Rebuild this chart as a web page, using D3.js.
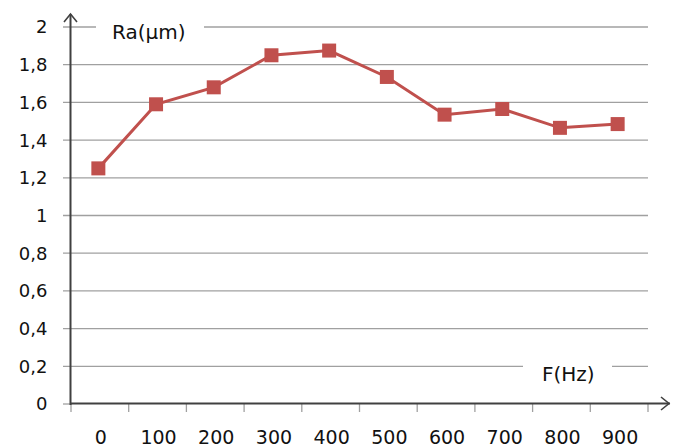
<!DOCTYPE html>
<html><head><meta charset="utf-8">
<script src="https://cdn.jsdelivr.net/npm/d3@7"></script>
<style>body{margin:0;background:#fff}svg{display:block}text{font-family:"DejaVu Sans",sans-serif}</style>
</head><body><svg width="678" height="448"></svg>
<script>
const categories = ["0","100","200","300","400","500","600","700","800","900"];
const raValues = [1.25,1.59,1.68,1.85,1.875,1.735,1.535,1.565,1.465,1.485];
const yTicks = [0,0.2,0.4,0.6,0.8,1,1.2,1.4,1.6,1.8,2];
const yTickLabels = ["0","0,2","0,4","0,6","0,8","1","1,2","1,4","1,6","1,8","2"];
const yTitle = "Ra(µm)";
const xTitle = "F(Hz)";

const svg = d3.select("svg");
const x = d3.scaleBand().domain(categories).range([71,648]);
const y = d3.scaleLinear().domain([0,2]).range([404,27]);
const axisCol = "#404040";

// gridlines
svg.append("g").selectAll("line").data(yTicks.slice(1)).join("line")
  .attr("x1",63).attr("x2",648).attr("y1",d=>y(d)).attr("y2",d=>y(d))
  .attr("stroke","#a0a0a0").attr("stroke-width",1.3);
svg.append("line").attr("x1",63).attr("x2",71).attr("y1",y(0)).attr("y2",y(0)).attr("stroke","#a0a0a0").attr("stroke-width",1.3);

// y labels
svg.append("g").selectAll("text").data(yTicks).join("text")
  .attr("x",47.5).attr("y",d=>y(d)).attr("dy","0.36em").attr("text-anchor","end")
  .attr("font-size",18).attr("fill","#111").text((d,i)=>yTickLabels[i]);

// x ticks
const tickPos = categories.map(c=>x(c)).concat([x.range()[1]]);
svg.append("g").selectAll("line").data(tickPos).join("line")
  .attr("x1",d=>d).attr("x2",d=>d).attr("y1",404).attr("y2",412)
  .attr("stroke","#a0a0a0").attr("stroke-width",1.3);
svg.append("g").selectAll("text").data(categories).join("text")
  .attr("x",d=>x(d)+x.bandwidth()/2+1).attr("y",444)
  .attr("text-anchor","middle").attr("font-size",19).attr("fill","#111").text(d=>d);

// axes with arrows
svg.append("line").attr("x1",70.5).attr("x2",70.5).attr("y1",405).attr("y2",14).attr("stroke",axisCol).attr("stroke-width",2);
svg.append("path").attr("d","M64,22 L70.5,14 L77,22").attr("fill","none").attr("stroke",axisCol).attr("stroke-width",1.6);
svg.append("line").attr("x1",70).attr("x2",670).attr("y1",403.5).attr("y2",403.5).attr("stroke",axisCol).attr("stroke-width",2.2);
svg.append("path").attr("d","M661,397 L669,403.5 L661,410").attr("fill","none").attr("stroke",axisCol).attr("stroke-width",1.6);

// axis titles with white backgrounds
svg.append("rect").attr("x",96).attr("y",15).attr("width",108).attr("height",26).attr("fill","#fff");
svg.append("text").attr("x",112).attr("y",32).attr("dy","0.36em").attr("font-size",20).attr("fill","#111").text(yTitle);
svg.append("rect").attr("x",523).attr("y",358).attr("width",89).attr("height",24).attr("fill","#fff");
svg.append("text").attr("x",542).attr("y",374).attr("dy","0.36em").attr("font-size",20).attr("fill","#111").text(xTitle);

// line + markers
const data = categories.map((c,i)=>({c,v:raValues[i]}));
const cx = d=>x(d.c)+x.bandwidth()/2 - 1.5;
svg.append("path").datum(data)
  .attr("d",d3.line().x(cx).y(d=>y(d.v)))
  .attr("fill","none").attr("stroke","#C0504D").attr("stroke-width",3);
svg.append("g").selectAll("rect").data(data).join("rect")
  .attr("x",d=>cx(d)-7).attr("y",d=>y(d.v)-7).attr("width",14).attr("height",14)
  .attr("fill","#C0504D");
</script></body></html>
